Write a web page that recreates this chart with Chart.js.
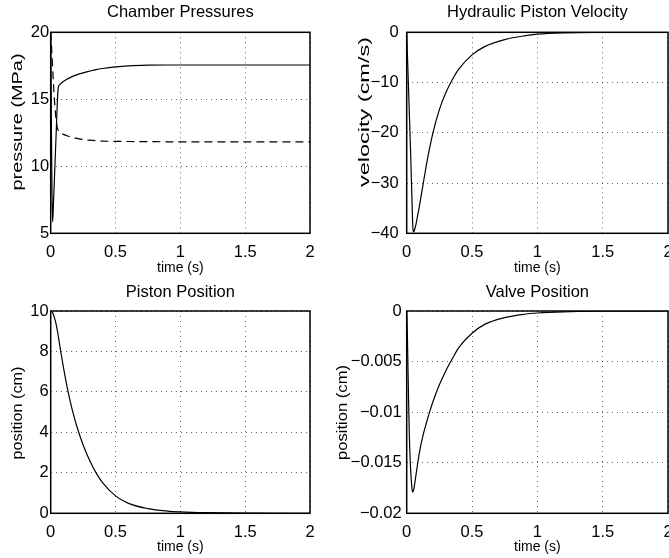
<!DOCTYPE html>
<html>
<head>
<meta charset="utf-8">
<script src="https://cdn.jsdelivr.net/npm/chart.js@4.4.1/dist/chart.umd.min.js"></script>
<style>
    html, body { margin: 0; padding: 0; background: #fff; overflow: hidden; }
    body { width: 669px; height: 558px; position: relative; }
    canvas { position: absolute; }
</style>
</head>
<body>
<canvas id="pressureChart" width="330" height="280" style="left:0;top:0"></canvas>
<canvas id="velocityChart" width="360" height="280" style="left:330px;top:0"></canvas>
<canvas id="pistonChart" width="330" height="278" style="left:0;top:280px"></canvas>
<canvas id="valveChart" width="360" height="278" style="left:330px;top:280px"></canvas>
<script>
// sample times (s), shared by every series
const time = [0, 0.005, 0.01, 0.015, 0.02, 0.03, 0.04, 0.045, 0.05, 0.055, 0.06, 0.07, 0.08, 0.1, 0.125,
    0.15, 0.175, 0.2, 0.25, 0.3, 0.35, 0.4, 0.5, 0.6, 0.75, 0.9, 1, 1.2, 1.5, 2];

// chamber pressures (MPa)
const pressureA = [20, 13.5, 8.0, 5.85, 6.9, 9.4, 11.9, 13.2, 14.5, 15.5, 15.95, 16.1, 16.2, 16.35, 16.5,
    16.62, 16.73, 16.82, 16.97, 17.1, 17.22, 17.3, 17.42, 17.5, 17.55, 17.56, 17.56, 17.56, 17.56, 17.56];
const pressureB = [20, 19.2, 18.3, 17.3, 16.4, 14.8, 13.6, 13.2, 12.9, 12.75, 12.65, 12.52, 12.46, 12.38, 12.28,
    12.2, 12.14, 12.09, 12.0, 11.95, 11.91, 11.88, 11.86, 11.85, 11.84, 11.83, 11.83, 11.83, 11.83, 11.83];

// hydraulic piston velocity (cm/s)
const velocity = [0, -4, -8, -12, -16, -24, -33, -37.5, -39.6, -39.7, -39.3, -38.3, -37.0, -34.2, -30.3,
    -26.5, -23.1, -20.1, -15.4, -12.0, -9.4, -7.3, -4.5, -2.8, -1.45, -0.7, -0.38, -0.12, -0.03, 0];

// piston position (cm)
const pistonPos = [10, 9.99, 9.96, 9.91, 9.84, 9.65, 9.4, 9.25, 9.08, 8.9, 8.7, 8.3, 7.9, 7.15, 6.3,
    5.55, 4.9, 4.33, 3.38, 2.62, 2.0, 1.52, 0.86, 0.49, 0.23, 0.11, 0.07, 0.03, 0.006, 0];

// valve position (cm)
const valvePos = [0, -0.0022, -0.0058, -0.0092, -0.0122, -0.0157, -0.0175, -0.0179, -0.0178, -0.0176, -0.0172,
    -0.0163, -0.0154, -0.0138, -0.0123, -0.0111, -0.01, -0.009, -0.0073, -0.0059, -0.0047, -0.0036, -0.0022,
    -0.0013, -0.00065, -0.00032, -0.0002, -0.00008, -0.00002, 0];

// tick labels
const timeTicks = [0, 0.5, 1, 1.5, 2];
const pressureTicks = [5, 10, 15, 20];
const velocityTicks = [-40, -30, -20, -10, 0];
const pistonTicks = [0, 2, 4, 6, 8, 10];
const valveTicks = [-0.02, -0.015, -0.01, -0.005, 0];

const FONT = '"Liberation Sans", Arial, Helvetica, sans-serif';
Chart.defaults.font.family = FONT;
Chart.defaults.color = '#000';

// box round the plot area
const framePlugin = {
    id: 'frame',
    afterDatasetsDraw(chart) {
        const a = chart.chartArea;
        const ctx = chart.ctx;
        ctx.save();
        ctx.strokeStyle = '#000';
        ctx.lineWidth = 1.5;
        ctx.strokeRect(a.left, a.top, a.right - a.left, a.bottom - a.top);
        ctx.restore();
    }
};

// rotated y label, stretched along its length like the original
const yLabelPlugin = {
    id: 'yLabel',
    afterDraw(chart, args, opts) {
        if (!opts.text) return;
        const ctx = chart.ctx;
        ctx.save();
        ctx.font = '14px ' + FONT;
        ctx.fillStyle = '#000';
        ctx.textAlign = 'center';
        ctx.textBaseline = 'middle';
        ctx.translate(opts.x, opts.y);
        ctx.rotate(-Math.PI / 2);
        const w = ctx.measureText(opts.text).width;
        ctx.scale(opts.length / w, 1);
        ctx.fillText(opts.text, 0, 0);
        ctx.restore();
    }
};

function fmt(v) {
    return String(+v.toFixed(4)).replace('-', '\u2212');
}

function makeChart(id, o) {
    const grid = { color: 'rgba(0,0,0,0.6)', lineWidth: 1, drawTicks: false };
    const border = { display: false, dash: [1, 4] };
    return new Chart(document.getElementById(id), {
        type: 'line',
        data: {
            datasets: o.series.map(s => ({
                data: time.map((t, i) => ({ x: t, y: s.values[i] })),
                borderColor: '#000',
                borderWidth: 1.2,
                borderDash: s.dash || [],
                pointRadius: 0,
                cubicInterpolationMode: 'monotone',
                fill: false
            }))
        },
        options: {
            responsive: false,
            animation: false,
            layout: { padding: { left: 0, right: o.padRight, top: 0, bottom: 0 } },
            plugins: {
                legend: { display: false },
                tooltip: { enabled: false },
                title: {
                    display: true, text: o.title, fullSize: false, color: '#000',
                    font: { size: 16.5, weight: 'normal' },
                    padding: { top: 2.6, bottom: o.titleGap }
                },
                yLabel: o.yLabel
            },
            scales: {
                x: {
                    type: 'linear', min: 0, max: 2,
                    afterBuildTicks: s => { s.ticks = timeTicks.map(v => ({ value: v })); },
                    afterFit: s => { s.height = o.xHeight; },
                    grid: grid, border: border,
                    ticks: { font: { size: 16.5 }, padding: 9, maxRotation: 0, callback: fmt },
                    title: { display: true, text: 'time (s)', font: { size: 14 }, padding: { top: 0, bottom: o.xTitlePad } }
                },
                y: {
                    min: o.yTicks[0], max: o.yTicks[o.yTicks.length - 1],
                    afterBuildTicks: s => { s.ticks = o.yTicks.map(v => ({ value: v })); },
                    afterFit: s => { s.width = o.yWidth; },
                    grid: grid, border: border,
                    ticks: { font: { size: 16.5 }, padding: o.yTickPad, callback: fmt }
                }
            }
        },
        plugins: [framePlugin, yLabelPlugin]
    });
}

makeChart('pressureChart', {
    title: 'Chamber Pressures',
    series: [{ values: pressureA }, { values: pressureB, dash: [8, 5] }],
    yTicks: pressureTicks, yWidth: 50.7, yTickPad: 1.5, padRight: 20,
    titleGap: 9.9, xHeight: 46.7, xTitlePad: 3.3,
    yLabel: { text: 'pressure (MPa)', x: 18.3, y: 122, length: 137 }
});

makeChart('velocityChart', {
    title: 'Hydraulic Piston Velocity',
    series: [{ values: velocity }],
    yTicks: velocityTicks, yWidth: 76.7, yTickPad: 8, padRight: 22,
    titleGap: 9.9, xHeight: 46.7, xTitlePad: 3.3,
    yLabel: { text: 'velocity (cm/s)', x: 35, y: 112, length: 150 }
});

makeChart('pistonChart', {
    title: 'Piston Position',
    series: [{ values: pistonPos }],
    yTicks: pistonTicks, yWidth: 50.7, yTickPad: 2, padRight: 20,
    titleGap: 8.6, xHeight: 44.7, xTitlePad: 2.6,
    yLabel: { text: 'position (cm)', x: 18.3, y: 133, length: 93 }
});

makeChart('valveChart', {
    title: 'Valve Position',
    series: [{ values: valvePos }],
    yTicks: valveTicks, yWidth: 76.7, yTickPad: 5, padRight: 22,
    titleGap: 8.6, xHeight: 44.7, xTitlePad: 2.6,
    yLabel: { text: 'position (cm)', x: 13.3, y: 132.5, length: 95 }
});
</script>
</body>
</html>
